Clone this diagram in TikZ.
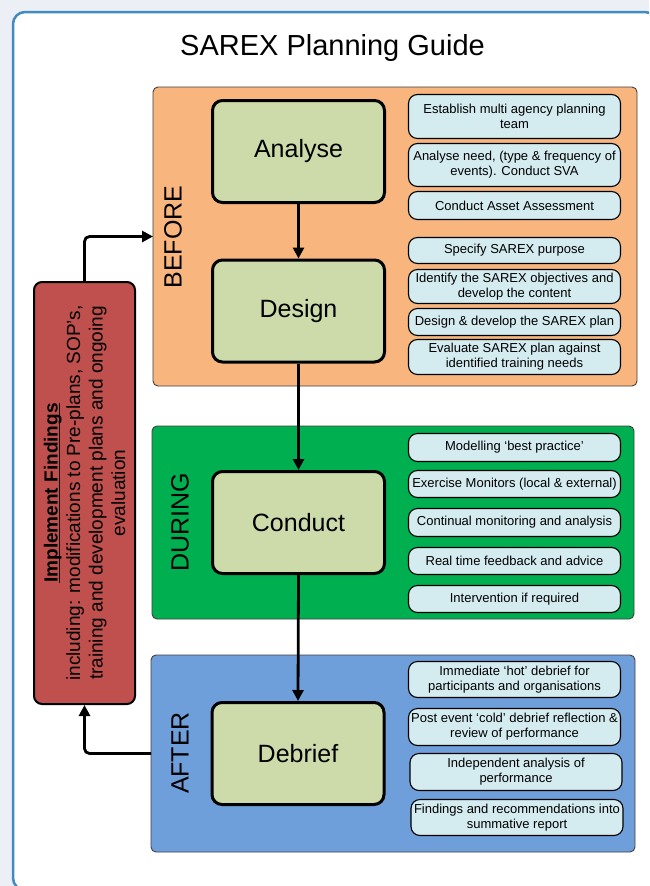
\documentclass[tikz,border=0pt]{standalone}
\usepackage{fontspec}
\setmainfont{Liberation Sans}
\usetikzlibrary{arrows.meta}
\definecolor{bgc}{HTML}{ECF0F6}
\definecolor{framec}{HTML}{418BBF}
\definecolor{beforec}{HTML}{F8B57D}
\definecolor{duringc}{HTML}{00B050}
\definecolor{afterc}{HTML}{6F9FDA}
\definecolor{redc}{HTML}{C0504D}
\definecolor{stagec}{HTML}{CCDBA9}
\definecolor{itemc}{HTML}{D4EBF0}
\newcommand\myul[1]{\setbox0\hbox{#1}\rlap{\rule[-2.4pt]{\wd0}{1.3pt}}\box0}
\tikzset{
  phase/.style={rectangle, draw=black!75, line width=0.9pt, rounded corners=5pt, inner sep=0pt, outer sep=0pt},
  stage/.style={rectangle, draw=black, line width=3pt, rounded corners=10pt, fill=stagec, minimum width=172pt, minimum height=102pt, font=\fontsize{25}{30}\selectfont},
  item/.style={rectangle, draw=black, line width=1.1pt, rounded corners=9pt, fill=itemc, minimum width=212pt, inner sep=0pt, align=center, font=\fontsize{13}{15}\selectfont},
  phaselabel/.style={rotate=90, font=\fontsize{25}{30}\selectfont, inner sep=0pt},
  arr/.style={line width=2.8pt, -{Triangle[length=11pt,width=11pt]}, rounded corners=5pt}
}
\begin{document}
\begin{tikzpicture}[x=1pt,y=-1pt]
\useasboundingbox (0,0) rectangle (649,886);
\fill[bgc] (0,0) rectangle (649,886);
\begin{scope}
\clip (0,0) rectangle (649,886);
\draw[framec, line width=2.5pt, fill=white, rounded corners=12pt] (13,12) rectangle (657,890);
\end{scope}

\node[anchor=base, font=\fontsize{29}{34}\selectfont, inner sep=0pt] (title) at (332.5,55) {SAREX Planning Guide};

% phase panels
\node[phase, fill=beforec, minimum width=484pt, minimum height=299pt] (before) at (395,236.5) {};
\node[phase, fill=duringc, minimum width=482pt, minimum height=193pt] (during) at (393,522.5) {};
\node[phase, fill=afterc, minimum width=484pt, minimum height=197pt] (after) at (393,753.5) {};

\node[phaselabel] (lbefore) at (173,237) {BEFORE};
\node[phaselabel] (lduring) at (180,522) {DURING};
\node[phaselabel] (lafter) at (180,753) {AFTER};

% stages
\node[stage] (analyse) at (298.5,151.5) {Analyse};
\node[stage] (design) at (298.5,311) {Design};
\node[stage] (conduct) at (298.5,522.5) {Conduct};
\node[stage] (debrief) at (298,753.5) {Debrief};

% items BEFORE
\node[item, minimum height=44pt] (b1) at (514.5,116.5) {Establish multi agency planning\\team};
\node[item, minimum height=43pt] (b2) at (514.5,165) {Analyse need, (type \& frequency of\\events). Conduct SVA};
\node[item, minimum height=28pt] (b3) at (514.5,205.5) {Conduct Asset Assessment};
\node[item, minimum height=26pt] (b4) at (514.5,250.5) {Specify SAREX purpose};
\node[item, minimum height=34pt] (b5) at (514.5,286.5) {Identify the SAREX objectives and\\develop the content};
\node[item, minimum height=27pt] (b6) at (514.5,322) {Design \& develop the SAREX plan};
\node[item, minimum height=35pt] (b7) at (514.5,357) {Evaluate SAREX plan against\\identified training needs};

% items DURING
\node[item, minimum height=28pt] (d1) at (514.5,447.5) {Modelling ‘best practice’};
\node[item, minimum height=27pt] (d2) at (514.5,484) {Exercise Monitors (local \& external)};
\node[item, minimum height=28pt] (d3) at (514.5,522.5) {Continual monitoring and analysis};
\node[item, minimum height=27pt] (d4) at (514.5,561) {Real time feedback and advice};
\node[item, minimum height=27pt] (d5) at (514.5,599) {Intervention if required};

% items AFTER
\node[item, minimum height=36pt] (a1) at (514.5,679.5) {Immediate ‘hot’ debrief for\\participants and organisations};
\node[item, minimum height=37pt] (a2) at (514.5,727) {Post event ‘cold’ debrief reflection \&\\review of performance};
\node[item, minimum height=37pt] (a3) at (516,772) {Independent analysis of\\performance};
\node[item, minimum height=36pt] (a4) at (517,817.5) {Findings and recommendations into\\summative report};

% implement findings
\node[rectangle, draw=black, line width=2pt, rounded corners=8pt, fill=redc, minimum width=422pt, minimum height=101pt, rotate=90, align=center, inner sep=0pt, font=\fontsize{19}{22.5}\selectfont] (impl) at (84.5,493)
{\myul{\textbf{Implement Findings}}\\including: modifications to Pre-plans, SOP’s,\\training and development plans and ongoing\\evaluation};

% connectors
\draw[arr] (analyse.south) -- (design.north);
\draw[arr] (design.south) -- (conduct.north);
\draw[arr] (conduct.south) -- (debrief.north);
\draw[arr] (impl.east) |- (before.west);
\draw[arr] (after.west) -| (impl.west);
\end{tikzpicture}
\end{document}
